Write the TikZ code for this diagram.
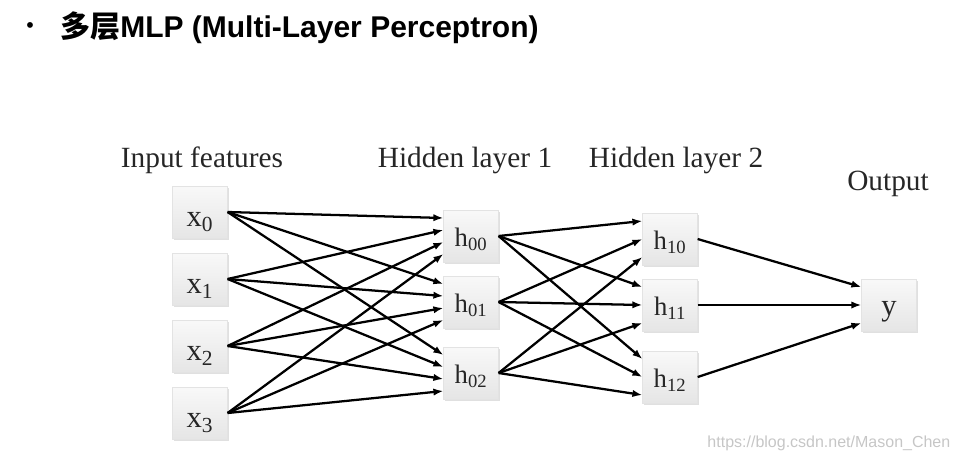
\documentclass[tikz,border=0pt]{standalone}
\usepackage{fontspec}
\setmainfont{Liberation Serif}
\setsansfont{Liberation Sans}
\newfontfamily\cjkfont{Noto Sans CJK SC}
\usetikzlibrary{calc}
\usetikzlibrary{shadows}
\usetikzlibrary{arrows.meta}
\tikzset{
  unit/.style = {rectangle, minimum width=41pt, minimum height=39pt, inner sep=0pt,
    text height=17pt, text depth=2pt,
    draw=gray!22, top color=gray!5, bottom color=gray!20, text=black!85,
    drop shadow={shadow xshift=1pt, shadow yshift=-1.2pt, fill=gray!60, opacity=.4}},
  inunit/.style = {unit, text height=22pt, text depth=0pt, font=\fontsize{23}{26}\selectfont},
  hidunit/.style = {unit, font=\fontsize{20}{24}\selectfont},
  outunit/.style = {unit, font=\fontsize{23}{26}\selectfont},
  layerlbl/.style = {text=black!85, font=\fontsize{22}{26}\selectfont},
  conn/.style = {-{Latex[length=7.5pt,width=5.5pt]}, line width=1.7pt}
}
\begin{document}
\begin{tikzpicture}[x=0.75pt,y=-0.75pt]
  \useasboundingbox (0,0) rectangle (962,462);
  %%% title
  \node (bullet) at (30,28) {\sffamily\fontsize{16}{18}\selectfont •};
  \node[anchor=west, inner sep=0pt] (title) at (60,28)
    {\fontsize{22.5}{27}\selectfont\bfseries\cjkfont 多层\sffamily MLP (Multi-Layer Perceptron)};
  %%% layer labels
  \node[layerlbl] (lin) at (202,160) {Input features};
  \node[layerlbl] (lh0) at (465,160) {Hidden layer 1};
  \node[layerlbl] (lh1) at (676,160) {Hidden layer 2};
  \node[layerlbl] (lout) at (888,184) {Output};
  %%% units
  \foreach \i/\yy in {0/212,1/279,2/346,3/413}
    \node[inunit] (x\i) at (200,\yy) {x\textsubscript{\i}};
  \foreach \j/\yy in {0/236,1/302,2/373}
    \node[hidunit] (h0\j) at (471,\yy) {h\textsubscript{0\j}};
  \foreach \k/\yy in {0/239,1/305,2/377}
    \node[hidunit] (h1\k) at (670,\yy) {h\textsubscript{1\k}};
  \node[outunit] (y) at (889,305) {y};
  %%% connections
  \foreach \i/\off in {0/-18,1/-6,2/6,3/18}
    \foreach \j in {0,1,2}
      \draw[conn] (x\i.east) -- ($(h0\j.west)+(0,\off)$);
  \foreach \j/\off in {0/-18,1/0,2/18}
    \foreach \k in {0,1,2}
      \draw[conn] (h0\j.east) -- ($(h1\k.west)+(0,\off)$);
  \foreach \k/\off in {0/-18,1/0,2/18}
    \draw[conn] (h1\k.east) -- ($(y.west)+(0,\off)$);
  %%% watermark
  \node[anchor=east, text=gray!45, font=\sffamily\fontsize{12}{14}\selectfont] (mark)
    at (955,443) {https://blog.csdn.net/Mason\_Chen};
\end{tikzpicture}
\end{document}
